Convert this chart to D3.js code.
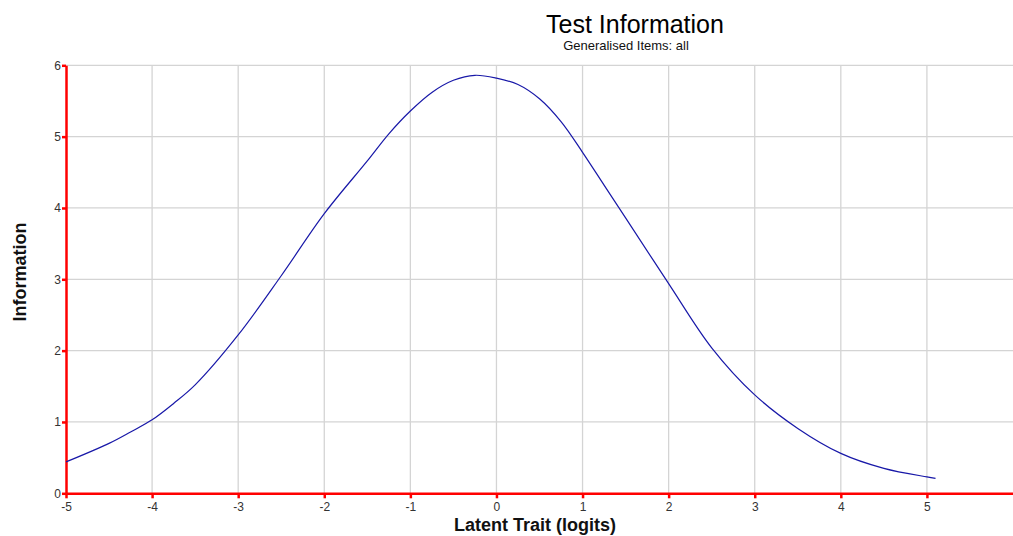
<!DOCTYPE html>
<html>
<head>
<meta charset="utf-8">
<script src="https://cdn.jsdelivr.net/npm/d3@7"></script>
<style>
  body { margin: 0; background: #fff; }
  svg { display: block; font-family: "Liberation Sans", Arial, sans-serif; }
</style>
</head>
<body>
<svg id="chart" width="1013" height="536"></svg>
<script>
// curve (logits -> information)
var traitValues = [-5, -4.5, -4.25, -4, -3.75, -3.5, -3, -2.5, -2, -1.5, -1.25, -1, -0.75, -0.5, -0.25, 0, 0.25, 0.5, 0.75, 1, 1.25, 1.5, 2, 2.5, 3, 3.5, 4, 4.5, 5, 5.1];
var infoValues = [0.44, 0.70, 0.86, 1.03, 1.26, 1.52, 2.22, 3.05, 3.92, 4.66, 5.04, 5.36, 5.62, 5.79, 5.86, 5.82, 5.73, 5.53, 5.21, 4.78, 4.32, 3.86, 2.94, 2.04, 1.38, 0.91, 0.56, 0.35, 0.23, 0.21];
var xTicks = [-5, -4, -3, -2, -1, 0, 1, 2, 3, 4, 5];
var yTicks = [0, 1, 2, 3, 4, 5, 6];

var svg = d3.select("#chart");
// plot area edges (note: "top" is taken by window.top)
var plotLeft = 66, plotRight = 1013, plotTop = 65.3, plotBottom = 493.3;

var x = d3.scaleLinear().domain([-5, 6]).range([plotLeft, plotRight]);
var y = d3.scaleLinear().domain([0, 6]).range([plotBottom, plotTop]);

// grid
svg.append("g")
    .selectAll("line")
    .data(yTicks.slice(1))
    .enter().append("line")
    .attr("x1", plotLeft).attr("x2", plotRight)
    .attr("y1", d => y(d)).attr("y2", d => y(d))
    .attr("stroke", "#d4d4d4").attr("stroke-width", 1.3);
svg.append("g")
    .selectAll("line")
    .data(xTicks.slice(1))
    .enter().append("line")
    .attr("x1", d => x(d)).attr("x2", d => x(d))
    .attr("y1", plotTop).attr("y2", plotBottom)
    .attr("stroke", "#d4d4d4").attr("stroke-width", 1.3);

// axes
var xAxis = svg.append("g")
    .attr("transform", "translate(0," + plotBottom + ")")
    .call(d3.axisBottom(x).tickValues(xTicks).tickSize(5).tickSizeOuter(0).tickFormat(d => String(d)));
var yAxis = svg.append("g")
    .attr("transform", "translate(" + plotLeft + ",0)")
    .call(d3.axisLeft(y).tickValues(yTicks).tickSize(4).tickSizeOuter(0).tickFormat(d => String(d)));

[xAxis, yAxis].forEach(function (g) {
    g.select(".domain").attr("stroke", "#ff0000").attr("stroke-width", 2.5);
    g.selectAll(".tick line").attr("stroke", "#ff0000").attr("stroke-width", 2.5);
    g.selectAll(".tick text")
        .attr("fill", "#333")
        .style("font-size", "12px")
        .style("font-family", "'Liberation Sans', Arial, sans-serif");
});
xAxis.selectAll(".tick text").attr("dy", "0.9em").attr("y", 7);
yAxis.selectAll(".tick text").attr("x", -5);

// curve
var line = d3.line()
    .x((d, i) => x(traitValues[i]))
    .y(d => y(d))
    .curve(d3.curveCatmullRom.alpha(0.5));

svg.append("path")
    .datum(infoValues)
    .attr("d", line)
    .attr("fill", "none")
    .attr("stroke", "#1818a8")
    .attr("stroke-width", 1.2);

// titles
svg.append("text")
    .attr("x", 635).attr("y", 33)
    .attr("text-anchor", "middle")
    .style("font-size", "25px")
    .attr("fill", "#000")
    .text("Test Information");
svg.append("text")
    .attr("x", 626).attr("y", 50)
    .attr("text-anchor", "middle")
    .style("font-size", "13px")
    .attr("fill", "#111")
    .text("Generalised Items: all");

svg.append("text")
    .attr("x", 535).attr("y", 531)
    .attr("text-anchor", "middle")
    .style("font-size", "18px")
    .style("font-weight", "bold")
    .attr("fill", "#111")
    .text("Latent Trait (logits)");
svg.append("text")
    .attr("transform", "translate(26,272) rotate(-90)")
    .attr("text-anchor", "middle")
    .style("font-size", "18px")
    .style("font-weight", "bold")
    .attr("fill", "#111")
    .text("Information");
</script>
</body>
</html>
